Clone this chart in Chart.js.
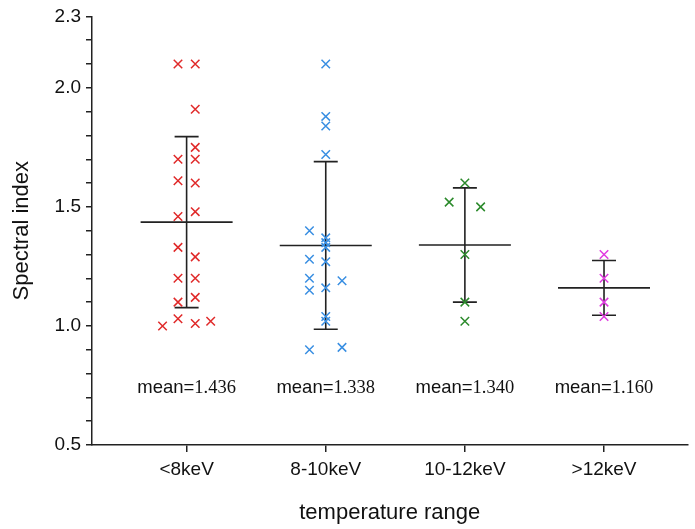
<!DOCTYPE html>
<html>
<head>
<meta charset="utf-8">
<script src="https://cdn.jsdelivr.net/npm/chart.js@4.4.0/dist/chart.umd.min.js"></script>
<style>
  body { margin: 0; background: #fff; }
</style>
</head>
<body>
<canvas id="c" width="695" height="529"></canvas>
<script>
// categories on the x axis
const categories = ['<8keV', '8-10keV', '10-12keV', '>12keV'];

// spectral index values per temperature range
const below8 = [2.10, 2.10, 1.91, 1.75, 1.70, 1.70, 1.61, 1.60, 1.48, 1.46, 1.33, 1.29, 1.20, 1.20, 1.12, 1.10, 1.03, 1.01, 1.00, 1.02];
const from8to10 = [2.10, 1.88, 1.84, 1.72, 1.40, 1.37, 1.35, 1.33, 1.28, 1.27, 1.20, 1.19, 1.15, 1.16, 1.04, 1.02, 0.90, 0.91];
const from10to12 = [1.60, 1.52, 1.50, 1.30, 1.10, 1.02];
const above12 = [1.30, 1.20, 1.10, 1.04];

// horizontal spread of the crosses inside each column (category units)
const below8Spread = [-0.062, 0.062, 0.062, 0.062, -0.062, 0.062, -0.062, 0.062, 0.062, -0.062, -0.062, 0.062, -0.062, 0.062, 0.062, -0.062, -0.062, 0.062, -0.173, 0.173];
const from8to10Spread = [0, 0, 0, 0, -0.117, 0, 0, 0, -0.117, 0, -0.117, 0.117, -0.117, 0, 0, 0, -0.117, 0.117];
const from10to12Spread = [0, -0.113, 0.113, 0, 0, 0];
const above12Spread = [0, 0, 0, 0];

// mean and standard deviation of each column
const means = [1.436, 1.338, 1.340, 1.160];
const sds = [0.359, 0.352, 0.240, 0.115];

// y ticks (minor every 0.1) and the ones that get a label
const yTicks = [0.5, 0.6, 0.7, 0.8, 0.9, 1.0, 1.1, 1.2, 1.3, 1.4, 1.5, 1.6, 1.7, 1.8, 1.9, 2.0, 2.1, 2.2, 2.3];
const yLabels = [0.5, 1.0, 1.5, 2.0, 2.3];

const colors = ['#e02a2a', '#3a8fe2', '#2b8a2b', '#e03ce0'];
const groups = [below8, from8to10, from10to12, above12];
const spreads = [below8Spread, from8to10Spread, from10to12Spread, above12Spread];

const SANS = '"Liberation Sans", Arial, sans-serif';
const SERIF = '"Liberation Serif", "Times New Roman", serif';
const INK = '#222';

// mean line + SD whiskers behind the crosses
const errorBars = {
    id: 'errorBars',
    beforeDatasetsDraw(chart) {
        const { ctx, scales: { x, y } } = chart;
        ctx.save();
        ctx.strokeStyle = INK;
        ctx.lineWidth = 1.6;
        means.forEach((m, i) => {
            const cx = x.getPixelForValue(i + 1);
            const yTop = y.getPixelForValue(m + sds[i]);
            const yBot = y.getPixelForValue(m - sds[i]);
            const yMean = y.getPixelForValue(m);
            ctx.beginPath();
            ctx.moveTo(cx, yTop); ctx.lineTo(cx, yBot);
            ctx.moveTo(cx - 12, yTop); ctx.lineTo(cx + 12, yTop);
            ctx.moveTo(cx - 12, yBot); ctx.lineTo(cx + 12, yBot);
            ctx.moveTo(cx - 46, yMean); ctx.lineTo(cx + 46, yMean);
            ctx.stroke();
        });
        ctx.restore();
    },
    afterDraw(chart) {
        const { ctx, scales: { x, y } } = chart;
        ctx.save();
        ctx.fillStyle = '#111';
        ctx.textBaseline = 'middle';
        ctx.textAlign = 'left';
        const ty = y.getPixelForValue(0.74);
        const size = '18.5px ';
        means.forEach((m, i) => {
            const cx = x.getPixelForValue(i + 1);
            const num = m.toFixed(3);
            ctx.font = size + SANS;
            const w1 = ctx.measureText('mean=').width;
            ctx.font = size + SERIF;
            const w2 = ctx.measureText(num).width;
            const x0 = cx - (w1 + w2) / 2;
            ctx.font = size + SANS;
            ctx.fillText('mean=', x0, ty);
            ctx.font = size + SERIF;
            ctx.fillText(num, x0 + w1, ty);
        });
        ctx.restore();
    }
};

const datasets = groups.map((vals, i) => ({
    data: vals.map((v, k) => ({ x: i + 1 + spreads[i][k], y: v })),
    pointStyle: 'crossRot',
    pointRadius: 6,
    borderColor: colors[i],
    backgroundColor: colors[i],
    borderWidth: 1.5,
    showLine: false
}));

new Chart(document.getElementById('c'), {
    type: 'scatter',
    data: { datasets },
    options: {
        responsive: false,
        animation: false,
        layout: { padding: { top: 16, right: 0, left: 0, bottom: 0 } },
        plugins: { legend: { display: false }, tooltip: { enabled: false } },
        scales: {
            x: {
                type: 'linear',
                min: 0.32,
                max: 4.6,
                afterBuildTicks: s => { s.ticks = categories.map((c, i) => ({ value: i + 1 })); },
                afterFit: s => { s.height = 84; },
                ticks: {
                    autoSkip: false,
                    maxRotation: 0,
                    padding: 6,
                    color: '#111',
                    font: { family: SANS, size: 19 },
                    callback: v => categories[Math.round(v) - 1]
                },
                grid: { drawOnChartArea: false, tickLength: 7, color: INK, lineWidth: 1.5 },
                border: { color: INK, width: 1.5 },
                title: {
                    display: true,
                    text: 'temperature range',
                    color: '#111',
                    font: { family: SANS, size: 22 },
                    padding: { top: 0, bottom: 3 }
                }
            },
            y: {
                min: 0.5,
                max: 2.3,
                afterBuildTicks: s => { s.ticks = yTicks.map(v => ({ value: v })); },
                afterFit: s => { s.width = 92; },
                ticks: {
                    autoSkip: false,
                    padding: 5,
                    color: '#111',
                    font: { family: SANS, size: 19 },
                    callback: v => yLabels.includes(v) ? v.toFixed(1) : ''
                },
                grid: { drawOnChartArea: false, tickLength: 6, color: INK, lineWidth: 1.5 },
                border: { color: INK, width: 1.5 },
                title: {
                    display: true,
                    text: 'Spectral index',
                    color: '#111',
                    font: { family: SANS, size: 22 },
                    padding: { top: 9, bottom: 0 }
                }
            }
        }
    },
    plugins: [errorBars]
});
</script>
</body>
</html>
